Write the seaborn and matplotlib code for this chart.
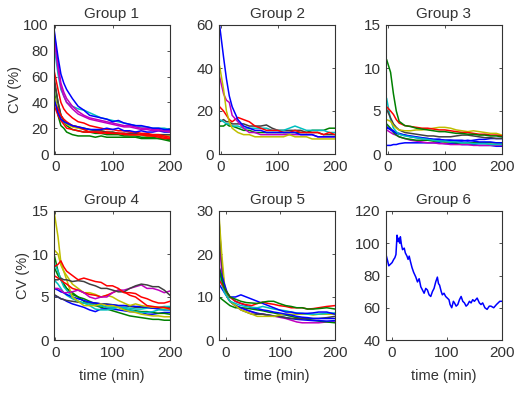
import numpy as np
import pandas as pd
import seaborn as sns
import matplotlib
matplotlib.use('Agg')
import matplotlib.pyplot as plt

# time grids (min)
t_std = [-2, 5, 10, 15, 20, 30, 40, 50, 60, 70, 80, 90, 100, 110, 120, 130, 140, 150, 160, 170, 180, 190, 200]
t_g5 = [-12, -7, -2, 3, 8, 18, 28, 38, 48, 58, 68, 78, 88, 98, 110, 120, 130, 140, 150, 160, 170, 185, 200]
t_g6 = [-10, -7, -5, -2, 1, 4, 6, 8, 10, 12, 13, 15, 16, 18, 20, 23, 25, 28, 30, 32, 34, 37, 40, 44, 47,
        50, 53, 56, 59, 62, 65, 68, 71, 74, 77, 80, 83, 85, 87, 90, 92, 95, 98, 101, 104, 106, 109, 112,
        114, 117, 120, 123, 126, 129, 132, 135, 138, 141, 144, 147, 150, 155, 159, 162, 165, 169, 173,
        177, 180, 185, 190, 193, 196, 200]

# Group 1
g1_blue_a = [97, 75, 62, 55, 50, 43, 37, 34, 30, 29, 28, 27, 25, 26, 24, 23, 22, 22, 21, 20, 20, 19, 19]
g1_blue_b = [43, 32, 27, 25, 24, 22, 21, 20, 19, 19, 19, 20, 19, 20, 18, 18, 17, 18, 17, 17, 18, 17, 17]
g1_mag_a = [95, 70, 55, 48, 43, 37, 33, 30, 28, 27, 26, 25, 24, 23, 22, 22, 21, 20, 20, 19, 19, 18, 18]
g1_mag_b = [92, 66, 52, 45, 40, 35, 31, 29, 27, 26, 25, 24, 23, 22, 21, 21, 20, 19, 19, 18, 18, 18, 17]
g1_cyan = [85, 62, 50, 45, 40, 37, 35, 34, 32, 30, 28, 27, 26, 25, 24, 23, 22, 21, 21, 20, 20, 20, 19]
g1_red_a = [65, 50, 40, 35, 32, 28, 25, 24, 22, 21, 20, 19, 19, 18, 18, 17, 17, 16, 16, 15, 15, 14, 13]
g1_red_b = [40, 35, 30, 27, 25, 22, 21, 19, 17, 17, 16, 17, 16, 16, 16, 15, 15, 15, 14, 14, 13, 12, 12]
g1_red_c = [38, 30, 26, 23, 20, 19, 18, 17, 17, 17, 17, 16, 16, 16, 15, 15, 15, 15, 15, 14, 14, 13, 12]
g1_green_a = [57, 40, 30, 25, 22, 19, 18, 17, 17, 16, 16, 15, 15, 15, 14, 14, 14, 13, 13, 13, 12, 12, 11]
g1_green_b = [50, 30, 22, 20, 17, 15, 14, 14, 14, 13, 14, 13, 13, 13, 13, 13, 13, 12, 12, 12, 12, 11, 10]
g1_gray = [60, 40, 30, 26, 24, 22, 21, 20, 19, 18, 18, 17, 17, 16, 16, 16, 16, 15, 15, 15, 15, 15, 15]
g1_yellow = [45, 35, 28, 25, 23, 21, 20, 19, 19, 18, 18, 17, 17, 16, 16, 15, 15, 15, 14, 14, 14, 14, 14]

# Group 2
g2_blue = [60, 45, 35, 27, 22, 16, 13, 12, 11, 11, 10, 10, 10, 10, 10, 10, 9, 9, 9, 8, 8, 8, 8]
g2_yellow = [41, 30, 20, 15, 12, 10, 9, 9, 8, 8, 8, 8, 8, 8, 9, 8, 8, 8, 7, 7, 7, 7, 7]
g2_mag = [36, 28, 25, 24, 18, 15, 12, 10, 10, 9, 9, 9, 9, 9, 9, 9, 9, 9, 9, 8, 8, 8, 8]
g2_red = [22, 20, 18, 16, 15, 17, 16, 15, 13, 12, 11, 11, 11, 10, 10, 11, 10, 10, 10, 10, 9, 10, 9]
g2_cyan = [16, 15, 14, 14, 13, 13, 12, 12, 12, 12, 12, 11, 11, 11, 12, 13, 12, 11, 11, 11, 11, 10, 10]
g2_gray = [15, 16, 15, 15, 14, 14, 14, 13, 13, 13, 13.5, 12, 11, 11, 11, 11, 11, 10, 10, 10, 9, 9, 9]
g2_green = [13, 13, 14, 13, 13, 12, 11, 11, 10, 10, 10, 10, 10, 10, 10, 10, 10, 10, 11, 11, 11, 12, 12]

# Group 3
g3_green_a = [11, 9.5, 7, 5, 3.8, 3.3, 3.2, 3.0, 2.9, 2.8, 2.7, 2.6, 2.6, 2.5, 2.4, 2.4, 2.3, 2.3, 2.2, 2.2, 2.1, 2.1, 2.0]
g3_green_b = [3.5, 3.0, 2.5, 2.2, 2.0, 1.8, 1.7, 1.6, 1.6, 1.6, 1.5, 1.5, 1.4, 1.4, 1.3, 1.3, 1.3, 1.3, 1.3, 1.3, 1.3, 1.3, 1.3]
g3_red = [5.5, 5.0, 4.6, 4.0, 3.6, 3.3, 3.2, 3.1, 3.0, 3.0, 2.9, 2.8, 2.8, 2.7, 2.6, 2.5, 2.5, 2.4, 2.3, 2.3, 2.2, 2.2, 2.1]
g3_cyan = [6.5, 4.0, 3.0, 2.6, 2.3, 2.1, 2.0, 1.9, 1.8, 1.7, 1.6, 1.5, 1.5, 1.4, 1.4, 1.3, 1.3, 1.2, 1.2, 1.2, 1.1, 1.1, 1.1]
g3_gray = [5.2, 4.2, 3.5, 3.1, 2.8, 2.5, 2.4, 2.3, 2.2, 2.1, 2.1, 2.0, 2.0, 2.0, 2.1, 2.2, 2.2, 2.1, 2.0, 1.9, 1.9, 1.8, 1.8]
g3_yellow = [4.0, 3.8, 3.3, 3.0, 2.8, 2.7, 2.7, 2.8, 2.8, 2.9, 3.0, 3.1, 3.1, 3.0, 2.8, 2.7, 2.6, 2.7, 2.6, 2.5, 2.4, 2.4, 2.2]
g3_blue_a = [3.0, 2.9, 2.7, 2.5, 2.4, 2.2, 2.1, 2.0, 1.9, 1.8, 1.7, 1.7, 1.6, 1.6, 1.5, 1.5, 1.6, 1.5, 1.4, 1.4, 1.4, 1.3, 1.3]
g3_blue_b = [1.0, 1.0, 1.1, 1.1, 1.2, 1.3, 1.3, 1.3, 1.3, 1.3, 1.3, 1.3, 1.2, 1.2, 1.2, 1.1, 1.1, 1.1, 1.0, 1.0, 1.0, 0.9, 0.9]
g3_blue_c = [3.2, 2.8, 2.6, 2.4, 2.3, 2.2, 2.0, 1.9, 1.8, 1.8, 1.7, 1.7, 1.6, 1.6, 1.6, 1.6, 1.5, 1.6, 1.7, 1.7, 1.8, 1.8, 1.8]
g3_mag = [2.8, 2.5, 2.3, 2.2, 2.0, 1.8, 1.6, 1.5, 1.4, 1.3, 1.3, 1.2, 1.2, 1.1, 1.1, 1.1, 1.1, 1.0, 1.0, 1.0, 1.0, 1.0, 1.0]

# Group 4
g4_yellow_a = [15, 12, 9, 8, 7, 5, 4.5, 4.0, 4.0, 4.0, 4.2, 4.0, 4.0, 3.8, 3.5, 3.3, 3.2, 3.0, 2.9, 2.8, 2.8, 2.7, 2.7]
g4_yellow_b = [10.5, 10, 8.7, 8.0, 7.5, 6.5, 6.0, 5.5, 5.5, 5.3, 5.0, 5.2, 5.0, 4.6, 4.3, 4.0, 4.2, 4.0, 3.9, 3.8, 3.8, 3.7, 3.6]
g4_red_a = [8.5, 8.8, 9.2, 8.5, 8.0, 7.5, 7.0, 7.2, 7.0, 6.8, 6.7, 6.3, 6.3, 6.0, 5.5, 5.5, 5.4, 5.0, 4.8, 4.5, 4.3, 4.3, 4.5]
g4_red_b = [7.5, 7.2, 7.0, 6.7, 6.5, 6.0, 5.8, 5.5, 5.3, 5.2, 5.0, 5.2, 5.5, 5.8, 5.6, 5.2, 5.0, 4.5, 4.0, 3.9, 3.8, 3.8, 3.6]
g4_green_a = [10, 8.0, 7.0, 6.5, 6.0, 5.5, 5.0, 4.5, 4.2, 4.0, 3.8, 3.6, 3.4, 3.2, 3.0, 2.8, 2.7, 2.6, 2.5, 2.4, 2.4, 2.3, 2.3]
g4_green_b = [8.5, 7.5, 7.0, 6.5, 6.0, 5.3, 5.0, 4.8, 4.5, 4.2, 4.0, 3.8, 3.8, 3.8, 3.6, 3.5, 3.4, 3.3, 3.3, 3.2, 3.1, 3.1, 3.0]
g4_cyan_a = [9.0, 8.0, 7.0, 6.2, 5.8, 5.0, 4.5, 4.3, 4.0, 3.6, 3.5, 3.5, 3.6, 3.8, 3.7, 3.5, 3.3, 3.2, 3.2, 3.3, 3.5, 3.5, 3.5]
g4_cyan_b = [7.0, 6.5, 6.0, 5.5, 5.2, 4.8, 4.5, 4.3, 4.2, 4.0, 4.0, 3.8, 3.8, 3.8, 3.8, 3.7, 3.6, 3.6, 3.7, 3.8, 3.8, 3.9, 3.9]
g4_mag = [6.0, 6.0, 5.8, 5.5, 5.5, 5.6, 5.8, 5.5, 5.0, 4.8, 5.0, 5.0, 5.5, 5.8, 5.8, 6.0, 6.2, 6.4, 6.0, 6.0, 5.8, 5.5, 5.7]
g4_gray_a = [7.0, 7.0, 7.2, 7.0, 7.0, 6.8, 6.9, 6.8, 6.5, 6.3, 6.0, 6.0, 5.8, 5.6, 5.6, 6.0, 6.3, 6.5, 6.4, 6.2, 6.2, 5.8, 5.2]
g4_gray_b = [5.3, 5.0, 4.8, 4.7, 4.6, 4.5, 4.4, 4.3, 4.3, 4.3, 4.2, 4.2, 4.1, 4.0, 4.0, 3.9, 3.8, 3.8, 3.8, 3.7, 3.7, 3.8, 3.8]
g4_blue_a = [5.2, 5.0, 4.8, 4.7, 4.5, 4.2, 4.0, 3.8, 3.5, 3.3, 3.6, 3.6, 3.6, 3.5, 3.4, 3.3, 3.3, 3.2, 3.0, 3.0, 3.1, 3.2, 3.2]
g4_blue_b = [6.0, 5.8, 5.6, 5.5, 5.3, 5.0, 4.8, 4.6, 4.4, 4.3, 4.2, 4.1, 4.1, 4.0, 4.0, 4.0, 3.9, 3.9, 3.8, 3.7, 3.6, 3.5, 3.5]

# Group 5
g5_yellow = [29, 20, 13, 10, 9, 8, 7, 6.5, 6, 5.5, 5.5, 5.5, 5.5, 5.8, 6, 6, 6, 6, 6, 5.8, 6, 6, 6]
g5_gray = [28, 18, 12, 10, 9, 8, 7, 6.5, 6, 6, 6, 5.8, 5.5, 5.5, 5.2, 5, 5, 5, 5, 5, 5, 5.2, 5.5]
g5_mag = [24, 16, 12, 10, 9, 8, 7.5, 7, 6.5, 6.2, 6, 5.8, 5.6, 5.3, 5, 4.6, 4.2, 4.0, 4.0, 4.0, 4.0, 4.2, 4.2]
g5_green_a = [17, 14, 12, 11, 10, 9.5, 9, 8.7, 8.6, 8.5, 8.8, 9, 9, 8.5, 8, 7.8, 7.5, 7.5, 7.2, 7.2, 7.3, 7.5, 7.2]
g5_green_b = [10, 9.5, 9, 8.5, 8, 7.5, 7.5, 7.4, 7.2, 7, 6.8, 6.5, 6.3, 6, 5.8, 5.5, 5.2, 5, 4.8, 4.6, 4.4, 4.2, 4.0]
g5_blue_a = [17, 15, 13, 11, 10, 10, 10.5, 10, 9.5, 9, 8.5, 8, 7.5, 7, 6.5, 6.5, 6.2, 6.2, 6.2, 6.3, 6.5, 6.5, 6.0]
g5_blue_b = [13, 12, 11, 10, 9, 8, 7.5, 7, 6.6, 6.2, 6, 5.8, 5.6, 5.5, 5.2, 5, 4.8, 4.7, 4.6, 4.5, 4.5, 4.4, 4.5]
g5_blue_c = [16, 14, 12, 11, 10, 9, 8.5, 8, 7.5, 7.3, 7.0, 6.8, 6.5, 6.3, 6, 5.8, 5.5, 5.3, 5.2, 5, 5, 5, 5]
g5_red = [14, 13, 12, 11, 10, 9, 8.5, 8.2, 8, 8.5, 8.8, 8.5, 8.3, 8, 7.8, 7.5, 7.5, 7.5, 7.2, 7.3, 7.5, 7.8, 8.0]
g5_cyan = [15, 13, 11, 10, 9, 8.5, 8, 7.8, 7.6, 7.5, 7.8, 7.5, 7.2, 7, 6.8, 6.5, 6.3, 6.2, 6, 6, 6, 6.2, 6.3]

# Group 6
g6_blue = [93, 89, 86, 87, 88, 90, 91, 93, 105, 101, 103, 100, 104, 99, 96, 97, 94, 92, 90, 92, 89, 85,
           82, 79, 76, 78, 73, 71, 69, 72, 71, 68, 67, 70, 72, 76, 79, 75, 74, 70, 68, 69, 67, 66, 65,
           62, 60, 64, 63, 61, 62, 65, 67, 64, 63, 61, 62, 64, 63, 65, 64, 66, 63, 62, 63, 60, 59, 61,
           61, 60, 62, 63, 64, 64]

B, G, R = (0, 0, 1), (0, 0.5, 0), (1, 0, 0)
C, M, Y, K = (0, 0.75, 0.75), (0.75, 0, 0.75), (0.75, 0.75, 0), (0.25, 0.25, 0.25)

groups = [
    (t_std, [(g1_green_b, G), (g1_green_a, G), (g1_yellow, Y), (g1_gray, K), (g1_red_c, R), (g1_red_b, R),
             (g1_red_a, R), (g1_cyan, C), (g1_blue_b, B), (g1_mag_b, M), (g1_mag_a, M), (g1_blue_a, B)],
     (0, 100, 20), -2),
    (t_std, [(g2_green, G), (g2_gray, K), (g2_cyan, C), (g2_red, R), (g2_mag, M), (g2_yellow, Y), (g2_blue, B)],
     (0, 60, 20), -3),
    (t_std, [(g3_blue_b, B), (g3_mag, M), (g3_green_b, G), (g3_blue_a, B), (g3_blue_c, B), (g3_cyan, C),
             (g3_gray, K), (g3_yellow, Y), (g3_red, R), (g3_green_a, G)],
     (0, 15, 5), -3),
    (t_std, [(g4_green_a, G), (g4_blue_a, B), (g4_green_b, G), (g4_gray_b, K), (g4_cyan_b, C), (g4_blue_b, B),
             (g4_cyan_a, C), (g4_yellow_a, Y), (g4_yellow_b, Y), (g4_red_b, R), (g4_mag, M), (g4_gray_a, K),
             (g4_red_a, R)],
     (0, 15, 5), -2),
    (t_g5, [(g5_mag, M), (g5_green_b, G), (g5_blue_b, B), (g5_gray, K), (g5_yellow, Y), (g5_blue_c, B),
            (g5_cyan, C), (g5_blue_a, B), (g5_red, R), (g5_green_a, G)],
     (0, 30, 10), -12),
    (t_g6, [(g6_blue, B)], (40, 120, 20), -10),
]

sns.set_style('ticks')
plt.rcParams['font.family'] = ['Liberation Sans', 'DejaVu Sans']
txt = '#333333'
plt.rcParams.update({'text.color': txt, 'axes.labelcolor': txt,
                     'xtick.color': txt, 'ytick.color': txt,
                     'xtick.direction': 'in', 'ytick.direction': 'in'})

fig = plt.figure(figsize=(5.17, 3.93), dpi=100)
W, H = 517, 393
lefts = [54, 219, 386]
tops = [25, 211]
aw, ah = 116, 129

for i, (tt, lines, (y0, y1, ystep), xmin) in enumerate(groups):
    r, c = divmod(i, 3)
    ax = fig.add_axes([lefts[c] / W, 1 - (tops[r] + ah) / H, aw / W, ah / H])
    for vals, col in lines:
        sns.lineplot(x=tt, y=vals, color=col, linewidth=1.1, ax=ax)
    ax.set_xlim(xmin, 200)
    ax.set_ylim(y0, y1)
    ax.set_xticks([0, 100, 200])
    ax.set_yticks(np.arange(y0, y1 + 0.1, ystep))
    ax.tick_params(labelsize=11, length=2.5, width=0.6, top=True, right=True, pad=4)
    for s in ax.spines.values():
        s.set_visible(True)
        s.set_linewidth(0.8)
        s.set_color('#333333')
    ax.set_title(f'Group {i + 1}', fontsize=11, pad=5)
    ax.set_xlabel('time (min)' if r == 1 else '', fontsize=10.5, labelpad=7)
    ax.set_ylabel('CV (%)' if c == 0 else '', fontsize=10.5, labelpad=1)

fig.savefig('out.png', dpi=100)
